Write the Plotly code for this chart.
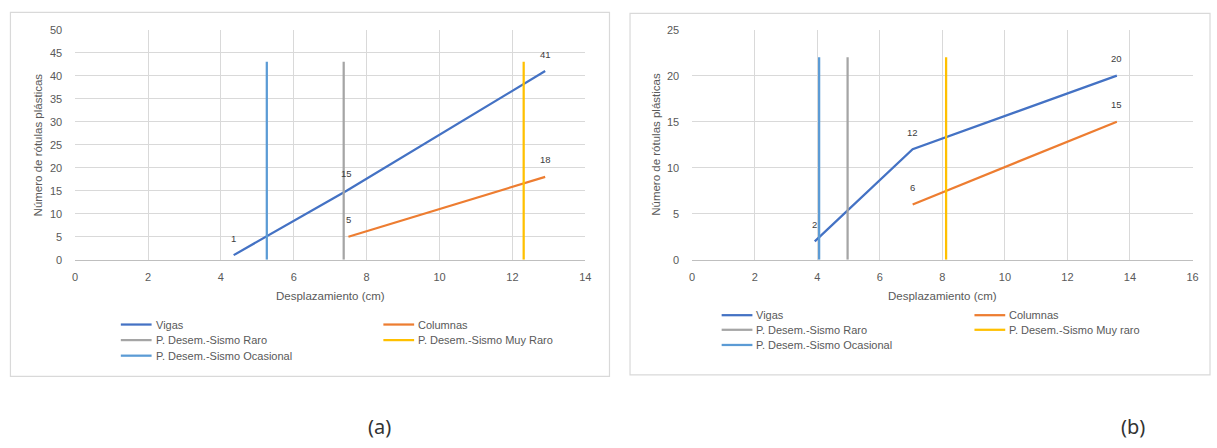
import plotly.graph_objects as go

W, H = 1217, 448

# ---- data: chart (a)
a_vigas_x = [4.35, 7.45, 12.9]
a_vigas_y = [1, 15, 41]
a_col_x = [7.5, 12.9]
a_col_y = [5, 18]
a_raro_x = 7.37
a_muyraro_x = 12.31
a_ocasional_x = 5.26
a_limit_top = 43

# ---- data: chart (b)
b_vigas_x = [3.92, 7.05, 13.58]
b_vigas_y = [2, 12, 20]
b_col_x = [7.05, 13.58]
b_col_y = [6, 15]
b_raro_x = 4.97
b_muyraro_x = 8.12
b_ocasional_x = 4.06
b_limit_top = 22

a_xticks = list(range(0, 15, 2))
a_yticks = list(range(0, 51, 5))
b_xticks = list(range(0, 17, 2))
b_yticks = list(range(0, 26, 5))

C_VIGAS = "#4472C4"
C_COL = "#ED7D31"
C_RARO = "#A5A5A5"
C_MUY = "#FFC000"
C_OCAS = "#5B9BD5"
GRID = "#D9D9D9"
TXT = "#595959"
FONT = "Liberation Sans, Arial, sans-serif"


def px(x):
    return x / W


def py(y):
    return 1 - y / H


fig = go.Figure()


def add_chart(xr, yr, vx, vy, cx, cy, raro, muy, ocas, top):
    lw = 2.25
    fig.add_trace(go.Scatter(x=vx, y=vy, mode="lines", line=dict(color=C_VIGAS, width=lw),
                             xaxis=xr, yaxis=yr, showlegend=False, hoverinfo="skip"))
    fig.add_trace(go.Scatter(x=cx, y=cy, mode="lines", line=dict(color=C_COL, width=lw),
                             xaxis=xr, yaxis=yr, showlegend=False, hoverinfo="skip"))
    for xv, col in ((raro, C_RARO), (muy, C_MUY), (ocas, C_OCAS)):
        fig.add_trace(go.Scatter(x=[xv, xv], y=[0, top], mode="lines",
                                 line=dict(color=col, width=lw),
                                 xaxis=xr, yaxis=yr, showlegend=False, hoverinfo="skip"))
    # data labels above each point
    for xs, ys in ((vx, vy), (cx, cy)):
        for xv, yv in zip(xs, ys):
            fig.add_annotation(x=xv, y=yv, xref=xr, yref=yr, text=str(yv), showarrow=False,
                               xanchor="center", yanchor="middle", yshift=17,
                               font=dict(family=FONT, size=9.5, color="#404040"))


add_chart("x", "y", a_vigas_x, a_vigas_y, a_col_x, a_col_y,
          a_raro_x, a_muyraro_x, a_ocasional_x, a_limit_top)
add_chart("x2", "y2", b_vigas_x, b_vigas_y, b_col_x, b_col_y,
          b_raro_x, b_muyraro_x, b_ocasional_x, b_limit_top)

axis_common = dict(showgrid=True, gridcolor=GRID, gridwidth=1, zeroline=False,
                   tickfont=dict(family=FONT, size=11, color=TXT), ticks="",
                   fixedrange=True)

fig.update_layout(
    width=W, height=H,
    margin=dict(l=0, r=0, t=0, b=0),
    paper_bgcolor="white", plot_bgcolor="white",
    showlegend=False,
    xaxis=dict(domain=[px(72.7), px(586.6)], range=[0, 14], tickvals=a_xticks,
               showline=True, linecolor="#BFBFBF", ticklabelstandoff=7, anchor="y", **axis_common),
    yaxis=dict(domain=[py(260.7), py(24.3)], range=[0, 50], tickvals=a_yticks,
               showline=False, ticklabelstandoff=12, anchor="x", **axis_common),
    xaxis2=dict(domain=[px(694.3), px(1198.4)], range=[0, 16], tickvals=b_xticks,
                showline=True, linecolor="#BFBFBF", ticklabelstandoff=7, anchor="y2", **axis_common),
    yaxis2=dict(domain=[py(260.7), py(24.3)], range=[0, 25], tickvals=b_yticks,
                showline=False, ticklabelstandoff=12, anchor="x2", **axis_common),
)

# outer frames of both charts
for x0, y0, x1, y1 in ((7.5, 6.5, 611, 380.5), (631.7, 7.5, 1216, 379)):
    fig.add_shape(type="rect", xref="paper", yref="paper",
                  x0=px(x0), x1=px(x1), y0=py(y1), y1=py(y0),
                  line=dict(color=GRID, width=1.2), fillcolor="rgba(0,0,0,0)", layer="below")


def paper_text(x, y, text, size, color=TXT, family=FONT, angle=0, xanchor="center"):
    fig.add_annotation(x=px(x), y=py(y), xref="paper", yref="paper", showarrow=False,
                       xanchor=xanchor, yanchor="middle", text=text, textangle=angle,
                       font=dict(family=family, size=size, color=color))


# axis titles
for cx_ in (329.6, 946.3):
    paper_text(cx_, 298.3, "Desplazamiento (cm)", 11.5)
for cx_ in (35, 658):
    paper_text(cx_, 142.5, "Número de rótulas plásticas", 11.5, angle=-90)

# legends (two columns, row-major order)
legend_a = [
    ("Vigas", C_VIGAS, 118.7, 327.3), ("Columnas", C_COL, 383.2, 327.3),
    ("P. Desem.-Sismo Raro", C_RARO, 118.7, 343.3), ("P. Desem.-Sismo Muy Raro", C_MUY, 383.2, 343.3),
    ("P. Desem.-Sismo Ocasional", C_OCAS, 118.7, 359.3),
]
legend_b = [
    ("Vigas", C_VIGAS, 724.0, 317.7), ("Columnas", C_COL, 978.7, 317.7),
    ("P. Desem.-Sismo Raro", C_RARO, 724.0, 332.7), ("P. Desem.-Sismo Muy raro", C_MUY, 978.7, 332.7),
    ("P. Desem.-Sismo Ocasional", C_OCAS, 724.0, 348.3),
]
for name, col, lx, ly in legend_a + legend_b:
    fig.add_shape(type="line", xref="paper", yref="paper",
                  x0=px(lx), x1=px(lx + 31), y0=py(ly), y1=py(ly),
                  line=dict(color=col, width=2.25))
    paper_text(lx + 33, ly, name, 11, xanchor="left")

# panel captions
for cap, cx_ in (("(a)", 379.8), ("(b)", 1138.4)):
    paper_text(cx_, 431.7, cap, 20, color="#333333", family="Noto Sans, sans-serif")

fig.write_html("out.html")
